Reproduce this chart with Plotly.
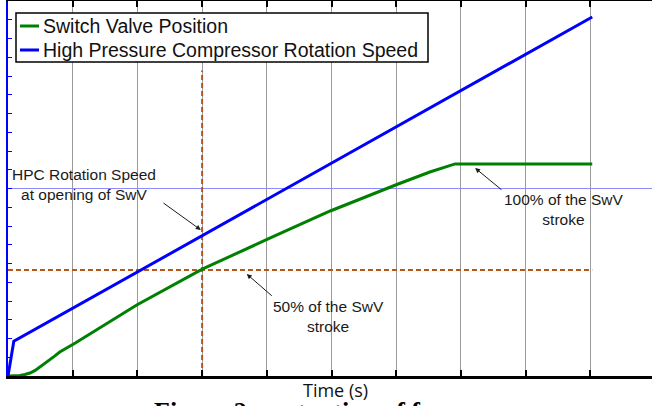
import plotly.graph_objects as go

# ---- data ----
time_hpc = [0.0, 0.09, 9.03]
hpc_speed = [0.0, 1.85, 19.15]

time_swv = [0.0, 0.10, 0.185, 0.26, 0.34, 0.42, 0.495, 0.57, 0.65, 0.72, 0.80, 0.92, 1.04, 1.99, 3.01, 4.02, 4.98, 6.03, 6.52, 6.91, 9.03]
swv_position = [0.0, 0.0, 0.03, 0.08, 0.16, 0.30, 0.48, 0.66, 0.85, 1.06, 1.28, 1.52, 1.76, 3.79, 5.71, 7.31, 8.80, 10.24, 10.88, 11.31, 11.31]

opening_time = 3.0
half_stroke_level = 5.66
speed_ref_level = 10.0
dash_top = 16.3
dash_end = 9.03

series_names = ["Switch Valve Position", "High Pressure Compressor Rotation Speed"]
series_colors = ["#008000", "#0000ff"]

W, H = 652, 406
ML, MR, MT, MB = 8, 0, 1, 30
PW, PH = W - ML - MR, H - MT - MB
XMAX = PW / 64.7
YMAX = 20


def px(xp):
    return (xp - ML) / PW


def py(yp):
    return (H - MB - yp) / PH


fig = go.Figure()

# reference lines
fig.add_trace(go.Scatter(x=[0, XMAX], y=[speed_ref_level, speed_ref_level], mode="lines",
                         line=dict(color="#8c8cff", width=1), showlegend=False, hoverinfo="skip"))
fig.add_trace(go.Scatter(x=[0, dash_end], y=[half_stroke_level, half_stroke_level], mode="lines",
                         line=dict(color="#b8561c", width=2, dash="5px,3px"), showlegend=False, hoverinfo="skip"))
fig.add_trace(go.Scatter(x=[opening_time, opening_time], y=[0, dash_top], mode="lines",
                         line=dict(color="#b8561c", width=2, dash="5px,3px"), showlegend=False, hoverinfo="skip"))

fig.add_trace(go.Scatter(x=time_swv, y=swv_position, mode="lines", name=series_names[0],
                         line=dict(color=series_colors[0], width=3), showlegend=False))
fig.add_trace(go.Scatter(x=time_hpc, y=hpc_speed, mode="lines", name=series_names[1],
                         line=dict(color=series_colors[1], width=3), showlegend=False))

txt_font = dict(family="Liberation Sans, Arial, sans-serif", size=15.5, color="#1a1a1a")

# text annotations
fig.add_annotation(x=1.175, y=10.21, xref="x", yref="y", text="HPC Rotation Speed<br>at opening of SwV",
                   showarrow=False, font=txt_font, align="center")
fig.add_annotation(x=4.95, y=3.17, xref="x", yref="y", text="50% of the SwV<br>stroke",
                   showarrow=False, font=txt_font, align="center")
fig.add_annotation(x=8.59, y=8.88, xref="x", yref="y", text="100% of the SwV<br>stroke",
                   showarrow=False, font=txt_font, align="center")

# arrows
arrows = [((2.98, 7.79), (2.38, 9.28)), ((3.69, 5.44), (4.10, 4.21)), ((7.22, 11.09), (7.65, 9.87))]
for (hx, hy), (tx, ty) in arrows:
    fig.add_annotation(x=hx, y=hy, ax=tx, ay=ty, xref="x", yref="y", axref="x", ayref="y",
                       text="", showarrow=True, arrowhead=2, arrowsize=1, arrowwidth=1, arrowcolor="#1a1a1a")

# legend box (drawn manually to match the reference proportions)
fig.add_shape(type="rect", xref="paper", yref="paper", x0=px(16), x1=px(428), y0=py(62), y1=py(13),
              line=dict(color="black", width=1.5), fillcolor="white", layer="above")
for i, (name, col) in enumerate(zip(series_names, series_colors)):
    yc = 26 + 24 * i
    fig.add_shape(type="line", xref="paper", yref="paper", x0=px(20), x1=px(39), y0=py(yc), y1=py(yc),
                  line=dict(color=col, width=3), layer="above")
    fig.add_annotation(x=px(41), y=py(yc), xref="paper", yref="paper", text=name, showarrow=False,
                       xanchor="left", yanchor="middle",
                       font=dict(family="Liberation Sans, Arial, sans-serif", size=19.5, color="#111"))

# axis title and (clipped) caption
fig.add_annotation(x=px(335), y=py(390), xref="paper", yref="paper", text="Time (s)", showarrow=False,
                   xanchor="center", yanchor="middle",
                   font=dict(family="Open Sans, sans-serif", size=18, color="#111"))
fig.add_annotation(x=px(152), y=py(395), xref="paper", yref="paper", text="<b>Figure 2 – actuation of f</b>",
                   showarrow=False, xanchor="left", yanchor="top",
                   font=dict(family="Liberation Serif, Times New Roman, serif", size=26, color="#000"))

fig.update_layout(
    width=W, height=H,
    margin=dict(l=ML, r=MR, t=MT, b=MB, autoexpand=False),
    plot_bgcolor="white", paper_bgcolor="white",
    showlegend=False,
    xaxis=dict(range=[0, XMAX], dtick=1, tick0=0, showgrid=True, gridcolor="#9a9a9a", gridwidth=1,
               showline=True, linecolor="black", linewidth=2.5, mirror="ticks",
               ticks="inside", ticklen=6, tickcolor="black", tickwidth=1.5,
               showticklabels=False, zeroline=False),
    yaxis=dict(range=[0, YMAX], dtick=1, tick0=0, showgrid=False,
               showline=True, linecolor="#0000ff", linewidth=2, mirror=False,
               ticks="inside", ticklen=4, tickcolor="#0000ff", tickwidth=1,
               showticklabels=False, zeroline=False),
)

fig.write_html("out.html", config={"displayModeBar": False},
               post_script="document.body.style.margin='0';document.body.style.overflow='hidden';")
